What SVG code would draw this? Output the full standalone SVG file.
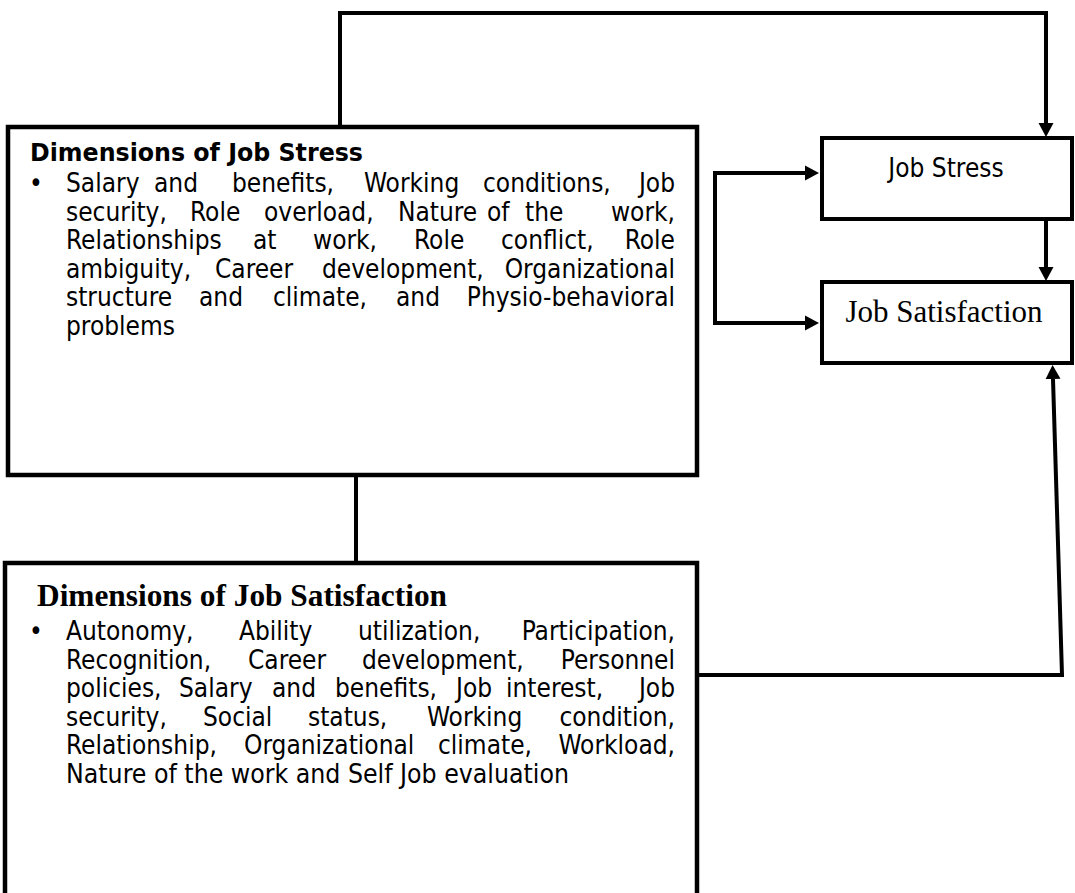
<svg xmlns="http://www.w3.org/2000/svg" width="1075" height="893" viewBox="0 0 1075 893">
  <style>
    .box { fill: #fff; stroke: #000; stroke-width: 4.5; }
    .small { fill: #fff; stroke: #000; stroke-width: 4; }
    .link { fill: none; stroke: #000; stroke-width: 4; stroke-linejoin: miter; }
    .sans { font-family: "DejaVu Sans Condensed", "DejaVu Sans", sans-serif; font-stretch: condensed; font-size: 26px; fill: #000; }
    .sansb { font-family: "DejaVu Sans Condensed", "DejaVu Sans", sans-serif; font-stretch: condensed; font-weight: bold; font-size: 25px; fill: #000; }
    .serif { font-family: "Liberation Serif", "Times New Roman", serif; font-size: 31px; fill: #000; }
    .serifb { font-family: "Liberation Serif", "Times New Roman", serif; font-weight: bold; font-size: 31px; fill: #000; }
    .end { text-anchor: end; }
  </style>
  <defs>
    <marker id="arrow" markerUnits="userSpaceOnUse" markerWidth="18" markerHeight="18" viewBox="0 -9 18 18" refX="0" refY="0" orient="auto-start-reverse">
      <path d="M0,-7.5 L14,0 L0,7.5 Z" fill="#000"/>
    </marker>
  </defs>
  <rect width="1075" height="893" fill="#fff"/>

  <!-- connectors -->
  <g id="connectors">
    <path class="link" d="M340,127 V13 H1046 V123" marker-end="url(#arrow)"/>
    <path class="link" d="M1046,219 V267" marker-end="url(#arrow)"/>
    <path class="link" d="M805,173 H715 V323 H805" marker-start="url(#arrow)" marker-end="url(#arrow)"/>
    <path class="link" d="M356,475 V563"/>
    <path class="link" d="M697,675 H1062 L1053,379" marker-end="url(#arrow)"/>
  </g>

  <!-- dimensions of job stress -->
  <g id="stress-dimensions">
    <rect class="box" x="8" y="127" width="689" height="348"/>
    <text class="sansb" x="30" y="161" textLength="333" lengthAdjust="spacingAndGlyphs">Dimensions of Job Stress</text>
    <text class="sans" x="29" y="192">•</text>
    <text class="sans" y="192"><tspan x="66">Salary</tspan><tspan x="154">and</tspan><tspan x="232">benefits,</tspan><tspan x="364">Working</tspan><tspan x="483">conditions,</tspan><tspan class="end" x="675">Job</tspan></text>
    <text class="sans" y="220.5"><tspan x="66">security,</tspan><tspan x="190">Role</tspan><tspan x="264">overload,</tspan><tspan x="398">Nature</tspan><tspan x="487">of</tspan><tspan x="525">the</tspan><tspan class="end" x="675">work,</tspan></text>
    <text class="sans" y="249"><tspan x="66">Relationships</tspan><tspan x="253">at</tspan><tspan x="313">work,</tspan><tspan x="414">Role</tspan><tspan x="501">conflict,</tspan><tspan class="end" x="675">Role</tspan></text>
    <text class="sans" y="277.5"><tspan x="66">ambiguity,</tspan><tspan x="215">Career</tspan><tspan x="322">development,</tspan><tspan class="end" x="675">Organizational</tspan></text>
    <text class="sans" y="306"><tspan x="66">structure</tspan><tspan x="199">and</tspan><tspan x="273">climate,</tspan><tspan x="396">and</tspan><tspan class="end" x="675">Physio-behavioral</tspan></text>
    <text class="sans" x="66" y="334.5">problems</text>
  </g>

  <!-- dimensions of job satisfaction -->
  <g id="satisfaction-dimensions">
    <rect class="box" x="5" y="563" width="692" height="360"/>
    <text class="serifb" x="37" y="606" textLength="410" lengthAdjust="spacingAndGlyphs">Dimensions of Job Satisfaction</text>
    <text class="sans" x="29" y="640">•</text>
    <text class="sans" y="640"><tspan x="66">Autonomy,</tspan><tspan x="239">Ability</tspan><tspan x="358">utilization,</tspan><tspan class="end" x="675">Participation,</tspan></text>
    <text class="sans" y="668.5"><tspan x="66">Recognition,</tspan><tspan x="248">Career</tspan><tspan x="362">development,</tspan><tspan class="end" x="675">Personnel</tspan></text>
    <text class="sans" y="697"><tspan x="66">policies,</tspan><tspan x="179">Salary</tspan><tspan x="272">and</tspan><tspan x="335">benefits,</tspan><tspan x="456">Job</tspan><tspan x="506">interest,</tspan><tspan class="end" x="675">Job</tspan></text>
    <text class="sans" y="725.5"><tspan x="66">security,</tspan><tspan x="203">Social</tspan><tspan x="308">status,</tspan><tspan x="427">Working</tspan><tspan class="end" x="675">condition,</tspan></text>
    <text class="sans" y="754"><tspan x="66">Relationship,</tspan><tspan x="244">Organizational</tspan><tspan x="438">climate,</tspan><tspan class="end" x="675">Workload,</tspan></text>
    <text class="sans" x="66" y="782.5" textLength="503" lengthAdjust="spacingAndGlyphs">Nature of the work and Self Job evaluation</text>
  </g>

  <!-- outcome nodes -->
  <g id="job-stress">
    <rect class="small" x="822" y="138" width="250" height="81"/>
    <text class="sans" x="946" y="177" text-anchor="middle" font-size="25">Job Stress</text>
  </g>
  <g id="job-satisfaction">
    <rect class="small" x="822" y="282" width="250" height="81"/>
    <text class="serif" x="944" y="322" text-anchor="middle">Job Satisfaction</text>
  </g>
</svg>
